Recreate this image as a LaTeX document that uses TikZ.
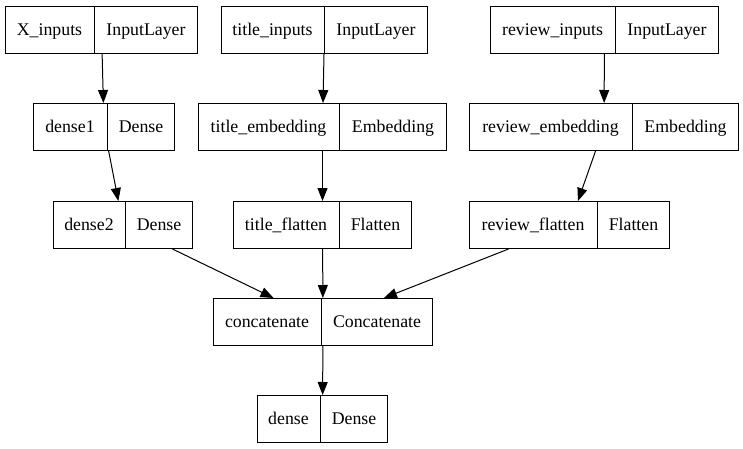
\documentclass[tikz,border=0pt]{standalone}
\usepackage{fontspec}
\setmainfont{Liberation Serif}
\usetikzlibrary{shapes.multipart,arrows.meta}
\newcommand{\cell}[2]{\rule[-18pt]{0pt}{47pt}\makebox[#1pt]{#2}}
\begin{document}
\begin{tikzpicture}[x=1pt,y=-1pt,
      layer/.style={draw, line width=1pt, rectangle split, rectangle split horizontal,
         rectangle split parts=2, inner xsep=0pt, inner ysep=0pt, anchor=north west,
         font=\fontsize{17.8}{20}\selectfont},
      link/.style={-{Triangle[length=13pt,width=10pt]}, line width=1pt}]
         \useasboundingbox (0,0) rectangle (743,449);
         %ingressi
         \node[layer] (xin) at (5,6) {\cell{88}{X\_inputs}\nodepart{two}\cell{103}{InputLayer}};
         \node[layer] (titlein) at (221,6) {\cell{102}{title\_inputs}\nodepart{two}\cell{103}{InputLayer}};
         \node[layer] (reviewin) at (490,6) {\cell{124}{review\_inputs}\nodepart{two}\cell{103}{InputLayer}};
         %livelli
         \node[layer] (dense1) at (33,103) {\cell{73}{dense1}\nodepart{two}\cell{67}{Dense}};
         \node[layer] (titleemb) at (198,103) {\cell{140}{title\_embedding}\nodepart{two}\cell{107}{Embedding}};
         \node[layer] (reviewemb) at (469,103) {\cell{162}{review\_embedding}\nodepart{two}\cell{106}{Embedding}};
         \node[layer] (dense2) at (53,201) {\cell{71}{dense2}\nodepart{two}\cell{67}{Dense}};
         \node[layer] (titleflat) at (233,201) {\cell{105}{title\_flatten}\nodepart{two}\cell{72}{Flatten}};
         \node[layer] (reviewflat) at (469,201) {\cell{127}{review\_flatten}\nodepart{two}\cell{72}{Flatten}};
         \node[layer] (concat) at (213,298) {\cell{107}{concatenate}\nodepart{two}\cell{111}{Concatenate}};
         \node[layer] (dense) at (257,395) {\cell{62}{dense}\nodepart{two}\cell{67}{Dense}};
         %collegamenti
         \draw[link] (xin) -- (dense1);
         \draw[link] (dense1) -- (dense2);
         \draw[link] (titlein) -- (titleemb);
         \draw[link] (titleemb) -- (titleflat);
         \draw[link] (reviewin) -- (reviewemb);
         \draw[link] (reviewemb) -- (reviewflat);
         \draw[link] (dense2) -- (concat);
         \draw[link] (titleflat) -- (concat);
         \draw[link] (reviewflat) -- (concat);
         \draw[link] (concat) -- (dense);
      \end{tikzpicture}
\end{document}
